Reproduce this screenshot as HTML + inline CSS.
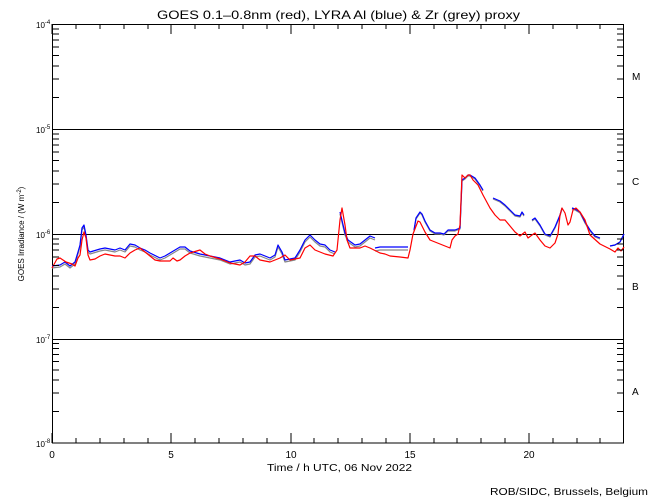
<!DOCTYPE html>
<html><head><style>
body{margin:0;background:#fff;}
svg{display:block;font-family:"Liberation Sans",sans-serif;}
</style></head><body>
<svg width="650" height="500" viewBox="0 0 650 500" xmlns="http://www.w3.org/2000/svg">
<rect width="650" height="500" fill="#fff"/>
<text x="157" y="19" font-size="12" textLength="363" lengthAdjust="spacingAndGlyphs">GOES 0.1–0.8nm (red), LYRA Al (blue) &amp; Zr (grey) proxy</text>
<g stroke="#000" stroke-width="1" fill="none">
<rect x="52.5" y="24.5" width="571" height="418.5"/>
<line x1="52" y1="129.5" x2="624" y2="129.5"/>
<line x1="52" y1="234.5" x2="624" y2="234.5"/>
<line x1="52" y1="339.5" x2="624" y2="339.5"/>
</g>
<g font-size="8">
<text x="36" y="28">10<tspan dy="-4" font-size="6">-4</tspan></text>
<text x="36" y="133">10<tspan dy="-4" font-size="6">-5</tspan></text>
<text x="36" y="238">10<tspan dy="-4" font-size="6">-6</tspan></text>
<text x="36" y="343">10<tspan dy="-4" font-size="6">-7</tspan></text>
<text x="36" y="447">10<tspan dy="-4" font-size="6">-8</tspan></text>
</g>
<g font-size="10">
<text x="632" y="80">M</text><text x="632" y="185">C</text><text x="632" y="290">B</text><text x="632" y="395">A</text>
<text x="52" y="458" text-anchor="middle">0</text>
<text x="171" y="458" text-anchor="middle">5</text>
<text x="291" y="458" text-anchor="middle">10</text>
<text x="410" y="458" text-anchor="middle">15</text>
<text x="529" y="458" text-anchor="middle">20</text>
<text x="267" y="471" textLength="145" lengthAdjust="spacingAndGlyphs">Time / h UTC, 06 Nov 2022</text>
<text x="490" y="495" textLength="158" lengthAdjust="spacingAndGlyphs">ROB/SIDC, Brussels, Belgium</text>
</g>
<text transform="translate(24,234) rotate(-90)" font-size="8" text-anchor="middle">GOES Irradiance / (W m<tspan dy="-3" font-size="6">-2</tspan><tspan dy="3">)</tspan></text>
<g fill="none" stroke-width="1.2" stroke-linejoin="round">
<polyline stroke="#888" transform="translate(0,2)" points="52,266 60,265 65,262 70,266 75,262 78,252 80,245 82,228 84,225 86,235 88,250 90,252 100,249 105,248 110,249 115,250 120,248 125,250 130,244 135,245 140,248 145,250 150,253 160,258 165,256 170,253 175,250 180,247 185,247 190,251 200,254 210,256 220,258 230,262 240,260 245,263 250,262 255,255 260,254 270,258 275,255 278,245 282,252 285,260 295,258 300,250 305,240 310,235 315,240 320,244 325,245 330,250 335,252"/>
<polyline stroke="#888" transform="translate(0,2)" points="340,212 345,233 348,240 355,245 360,244 365,240 370,236 375,238"/>
<polyline stroke="#888" transform="translate(0,3)" points="375,248 380,247 390,247 400,247 408,247"/>
<polyline stroke="#888" transform="translate(0,1)" points="414,230 416,218 420,212 422,214 425,221 430,230 435,233 440,233 444,234 448,230 455,230 460,228 462,180 465,178 468,175 470,175 475,178 480,185 483,190"/>
<polyline stroke="#888" transform="translate(0,1)" points="493,198 500,201 505,205 510,210 515,215 520,216 522,212 524,215"/>
<polyline stroke="#888" transform="translate(0,1)" points="532,220 535,218 540,225 545,234 550,236 555,227 560,215 562,208"/>
<polyline stroke="#888" transform="translate(0,1)" points="572,208 575,209 580,212 585,222 590,230 595,236 600,238"/>
<polyline stroke="#888" points="610,246 615,245 620,242 624,234"/>

<polyline stroke="#0000ff" points="52,266 60,265 65,262 70,266 75,262 78,252 80,245 82,228 84,225 86,235 88,250 90,252 100,249 105,248 110,249 115,250 120,248 125,250 130,244 135,245 140,248 145,250 150,253 160,258 165,256 170,253 175,250 180,247 185,247 190,251 200,254 210,256 220,258 230,262 240,260 245,263 250,262 255,255 260,254 270,258 275,255 278,245 282,252 285,260 295,258 300,250 305,240 310,235 315,240 320,244 325,245 330,250 335,252"/>
<polyline stroke="#0000ff" points="340,212 345,233 348,240 355,245 360,244 365,240 370,236 375,238"/>
<polyline stroke="#0000ff" points="375,248 380,247 390,247 400,247 408,247"/>
<polyline stroke="#0000ff" points="414,230 416,218 420,212 422,214 425,221 430,230 435,233 440,233 444,234 448,230 455,230 460,228 462,180 465,178 468,175 470,175 475,178 480,185 483,190"/>
<polyline stroke="#0000ff" points="493,198 500,201 505,205 510,210 515,215 520,216 522,212 524,215"/>
<polyline stroke="#0000ff" points="532,220 535,218 540,225 545,234 550,236 555,227 560,215 562,208"/>
<polyline stroke="#0000ff" points="572,208 575,209 580,212 585,222 590,230 595,236 600,238"/>
<polyline stroke="#0000ff" points="610,246 615,245 620,242 624,234"/>

<polyline stroke="#ff0000" points="52,268 57,259 60,258 66,262 72,264 75,266 78,258 80,255 82,240 84,232 86,238 88,255 90,260 95,259 100,256 105,254 110,255 115,256 120,256 125,258 130,253 135,250 140,248 145,252 150,256 155,260 160,261 170,261 173,258 177,261 180,260 185,256 190,253 200,250 205,254 210,256 220,259 230,263 240,265 245,262 250,256 255,256 260,260 270,262 275,260 280,258 285,255 290,260 300,258 305,248 310,245 315,250 325,254 333,256 337,250 340,220 342,208 345,225 347,240 350,248 355,248 360,248 365,246 370,248 380,253 385,254 390,256 400,257 408,258 410,250 413,234 418,221 420,222 425,232 430,240 440,244 450,248 452,240 455,236 458,234 460,225 462,175 465,178 468,175 470,175 473,180 478,185 483,195 490,208 495,215 500,220 505,220 510,226 515,232 520,236 525,232 528,238 532,235 535,233 540,240 545,246 550,248 555,243 558,234 560,215 562,208 565,213 568,225 570,222 573,210 576,208 580,212 585,220 590,235 600,244 610,249 615,252 618,248 621,251 624,247"/>
</g>
<g stroke="#000" stroke-width="1">
<path d="M52,443v-10M52,24v10M171,443v-10M171,24v10M291,443v-10M291,24v10M410,443v-10M410,24v10M529,443v-10M529,24v10"/>
<path d="M76,443v-5M100,443v-5M124,443v-5M148,443v-5M195,443v-5M219,443v-5M243,443v-5M267,443v-5M314,443v-5M338,443v-5M362,443v-5M386,443v-5M434,443v-5M457,443v-5M481,443v-5M505,443v-5M553,443v-5M577,443v-5M600,443v-5M76,24v5M100,24v5M124,24v5M148,24v5M195,24v5M219,24v5M243,24v5M267,24v5M314,24v5M338,24v5M362,24v5M386,24v5M434,24v5M457,24v5M481,24v5M505,24v5M553,24v5M577,24v5M600,24v5"/>
<path d="M53,97.5h6M53,79h6M53,66h6M53,55.5h6M53,47h6M53,40h6M53,34h6M53,29h6M623,97.5h-6M623,79h-6M623,66h-6M623,55.5h-6M623,47h-6M623,40h-6M623,34h-6M623,29h-6
M53,202.5h6M53,184h6M53,171h6M53,160.5h6M53,152h6M53,145h6M53,139h6M53,134h6M623,202.5h-6M623,184h-6M623,171h-6M623,160.5h-6M623,152h-6M623,145h-6M623,139h-6M623,134h-6
M53,307.5h6M53,289h6M53,276h6M53,265.5h6M53,257h6M53,250h6M53,244h6M53,239h6M623,307.5h-6M623,289h-6M623,276h-6M623,265.5h-6M623,257h-6M623,250h-6M623,244h-6M623,239h-6
M53,411.5h6M53,393h6M53,380h6M53,370h6M53,361.5h6M53,354.5h6M53,348.5h6M53,343.5h6M623,411.5h-6M623,393h-6M623,380h-6M623,370h-6M623,361.5h-6M623,354.5h-6M623,348.5h-6M623,343.5h-6"/>
</g>
</svg>
</body></html>
